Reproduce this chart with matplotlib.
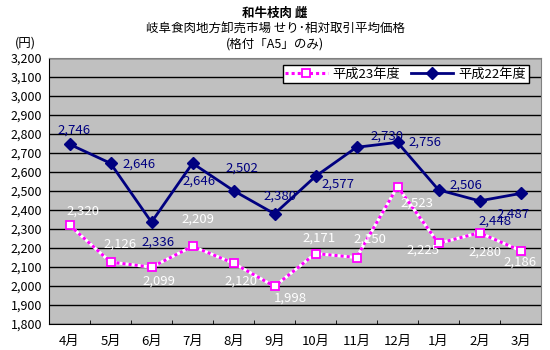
import numpy as np
import matplotlib
matplotlib.use("Agg")
import matplotlib.pyplot as plt
from matplotlib.ticker import FuncFormatter, MultipleLocator

plt.rcParams['font.family'] = ['Noto Sans CJK JP', 'DejaVu Sans']

# months of the fiscal year, April -> March
months = ['4月', '5月', '6月', '7月', '8月', '9月', '10月', '11月', '12月', '1月', '2月', '3月']

# average price per kg (yen)
h23_prices = [2320, 2126, 2099, 2209, 2120, 1998, 2171, 2150, 2523, 2225, 2280, 2186]
h22_prices = [2746, 2646, 2336, 2646, 2502, 2380, 2577, 2730, 2756, 2506, 2448, 2487]

series_names = ['平成23年度', '平成22年度']

# hand placed label offsets (pixels, right / down) so the numbers don't collide
h23_offsets = [(13, -14), (10, -18), (7, 14), (5, -27), (7, 18), (16, 12),
               (4, -15), (13, -18), (19, 17), (-16, 7), (5, 19), (0, 11)]
h22_offsets = [(5, -14), (29, 1), (7, 20), (7, 18), (8, -22), (5, -18),
               (22, 8), (30, -11), (27, 0), (27, -5), (16, 20), (-7, 21)]

navy = '#000080'
magenta = '#FF00FF'

fig = plt.figure(figsize=(5.5, 3.5), dpi=100)
ax = fig.add_axes([49 / 550, 1 - 324 / 350, 492 / 550, 266 / 350])
ax.set_facecolor('#C0C0C0')

x = np.arange(len(months))

# 平成23 line: magenta dotted over white
ax.plot(x, h23_prices, color='white', lw=2.2, zorder=3)
h23_line, = ax.plot(x, h23_prices, color=magenta, lw=2.2, ls=(0, (1, 1)),
                    marker='s', markersize=6, markerfacecolor='white',
                    markeredgecolor=magenta, markeredgewidth=1.3, zorder=4)
h22_line, = ax.plot(x, h22_prices, color=navy, lw=2, marker='D', markersize=6,
                    markerfacecolor=navy, markeredgecolor=navy, zorder=5)

for xi, v, (dx, dy) in zip(x, h23_prices, h23_offsets):
    ax.annotate(f'{v:,}', (xi, v), xytext=(dx, -dy), textcoords='offset pixels',
                ha='center', va='center', fontsize=9.5, color='white', zorder=6)
for xi, v, (dx, dy) in zip(x, h22_prices, h22_offsets):
    ax.annotate(f'{v:,}', (xi, v), xytext=(dx, -dy), textcoords='offset pixels',
                ha='center', va='center', fontsize=9.5, color=navy, zorder=6)

ax.set_xlim(-0.5, len(months) - 0.5)
ax.set_ylim(1800, 3200)
ax.yaxis.set_major_locator(MultipleLocator(100))
ax.yaxis.set_major_formatter(FuncFormatter(lambda v, p: f'{int(v):,}'))
ax.grid(axis='y', color='black', lw=1)
ax.set_axisbelow(True)

ax.set_xticks(x)
ax.set_xticklabels(months)
ax.set_xticks(np.arange(len(months) + 1) - 0.5, minor=True)
ax.tick_params(axis='x', which='major', length=0, pad=8, labelsize=9.5)
ax.tick_params(axis='x', which='minor', length=3, direction='in', color='black')
ax.tick_params(axis='y', length=0, pad=5, labelsize=9)

for side in ['left', 'bottom']:
    ax.spines[side].set_color('black')
for side in ['top', 'right']:
    ax.spines[side].set_color('#808080')

leg = ax.legend([h23_line, h22_line], series_names, ncol=2, loc='upper right',
                bbox_to_anchor=(529 / 550, 1 - 65 / 350), bbox_transform=fig.transFigure,
                frameon=True, fancybox=False, framealpha=1, edgecolor='black',
                fontsize=9.5, borderpad=0.2, handlelength=3.2, columnspacing=0.8,
                handletextpad=0.4, borderaxespad=0)
leg.get_frame().set_linewidth(1)
leg.set_zorder(10)

fig.text(275 / 550, 1 - 13 / 350, '和牛枝肉 雌', ha='center', va='center',
         fontsize=9, fontweight='bold')
fig.text(275 / 550, 1 - 29 / 350, '岐阜食肉地方卸売市場 せり･相対取引平均価格', ha='center',
         va='center', fontsize=9)
fig.text(275 / 550, 1 - 44 / 350, '(格付「A5」のみ)', ha='center', va='center', fontsize=9)
fig.text(25 / 550, 1 - 43 / 350, '(円)', ha='center', va='center', fontsize=9)

plt.savefig('out.png', dpi=100)
